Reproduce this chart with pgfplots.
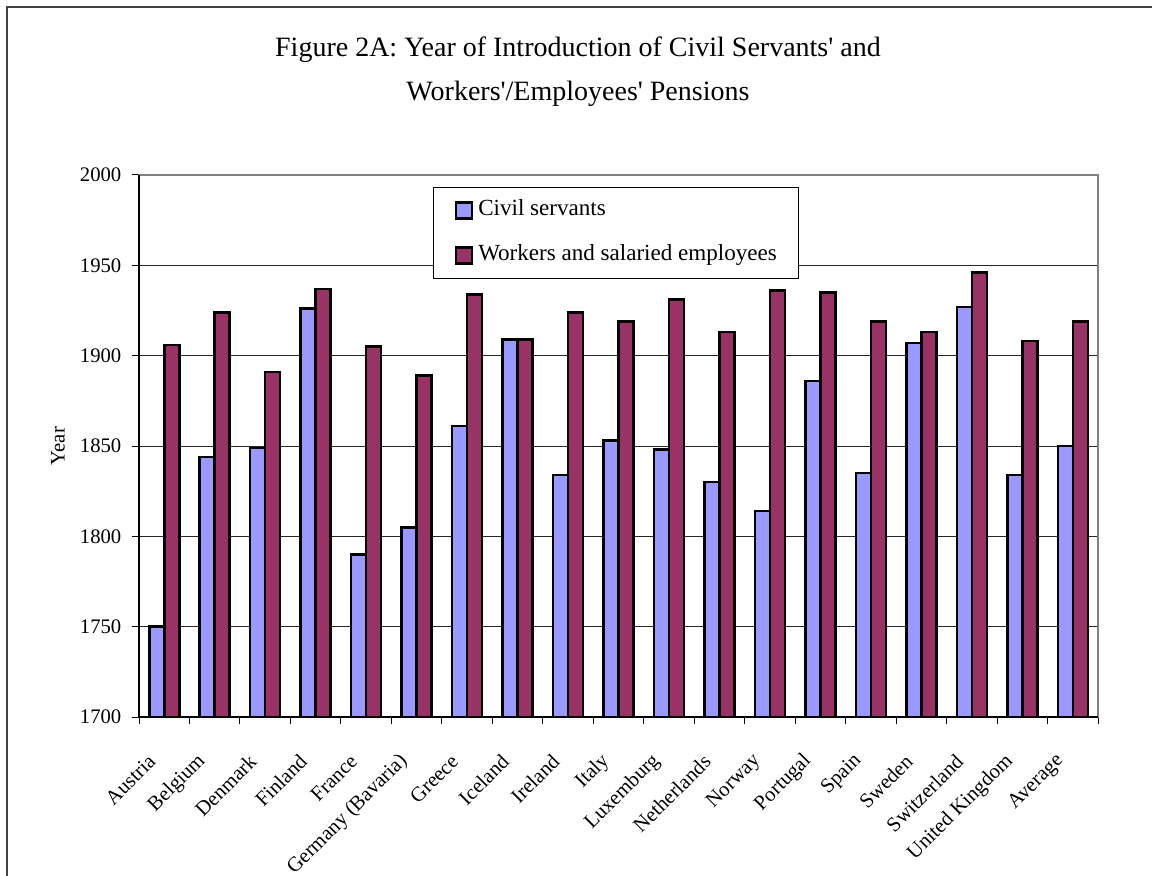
\documentclass[border=0pt]{standalone}
\usepackage{fontspec}
\setmainfont{Liberation Serif}
\usepackage{pgfplots}
\pgfplotsset{compat=1.18}
\definecolor{civil}{RGB}{153,153,255}
\definecolor{workers}{RGB}{153,51,102}
\definecolor{framegray}{RGB}{128,128,128}

\begin{document}
\begin{tikzpicture}
\useasboundingbox (0,0) rectangle (864pt,656.25pt);
% outer chart border (only top and left edges are visible in the reference)
\draw[line width=1.5pt, black!75] (5.25pt,-10pt) -- (5.25pt,651pt) -- (880pt,651pt);
\node[anchor=base, font=\fontsize{21}{25}\selectfont] at (433.5pt,613.5pt)
  {Figure 2A: Year of Introduction of Civil Servants\textquotesingle{} and};
\node[anchor=base, font=\fontsize{21}{25}\selectfont] at (433.5pt,580.5pt)
  {Workers\textquotesingle/Employees\textquotesingle{} Pensions};
\node[rotate=90, font=\fontsize{15.5}{18}\selectfont] at (43.5pt,321.75pt) {Year};

\begin{axis}[
  name=ax,
  at={(104.25pt,118.5pt)}, anchor=south west,
  scale only axis, width=719.25pt, height=406.5pt,
  ybar=0pt, bar width=11.25pt,
  xmin=-0.5, xmax=18.5, ymin=1700, ymax=2000,
  ytick={1700,1750,...,2000},
  xtick={0,...,18},
  xticklabels={Austria,Belgium,Denmark,Finland,France,Germany (Bavaria),Greece,
    Iceland,Ireland,Italy,Luxemburg,Netherlands,Norway,Portugal,Spain,Sweden,
    Switzerland,United Kingdom,Average},
  minor xtick={-0.5,0.5,...,18.5},
  tick align=outside, tick pos=left,
  major tick length=5.25pt, minor tick length=5.25pt,
  major x tick style={draw=none},
  tick style={black, line width=0.75pt},
  ymajorgrids, major grid style={black!85, line width=0.75pt},
  axis line style={framegray, line width=1.2pt},
  /pgf/number format/assume math mode=true,
  /pgf/number format/1000 sep={},
  yticklabel style={font=\fontsize{15.5}{18}\selectfont, xshift=-4.5pt},
  xticklabel style={font=\fontsize{15.5}{18}\selectfont, xshift=-6.8pt, yshift=-23.2pt,
    rotate=45, anchor=east},
  legend style={at={(0.3066,0.978)}, anchor=north west, draw=black, line width=0.75pt,
    fill=white, font=\fontsize{17.3}{20}\selectfont,
    inner xsep=16pt, inner ysep=9.25pt, row sep=17.75pt, column sep=3.75pt,
    nodes={inner sep=0pt, text height=12pt, text depth=4pt}},
  legend cell align=left,
  legend image code/.code={\draw[#1, line width=1.8pt] (0pt,-6pt) rectangle (12pt,6pt);},
]
\addplot[fill=civil, draw=black, line width=1.9pt] coordinates {
  (0,1750) (1,1844) (2,1849) (3,1926) (4,1790) (5,1805) (6,1861) (7,1909)
  (8,1834) (9,1853) (10,1848) (11,1830) (12,1814) (13,1886) (14,1835)
  (15,1907) (16,1927) (17,1834) (18,1850)};
\addplot[fill=workers, draw=black, line width=1.9pt] coordinates {
  (0,1906) (1,1924) (2,1891) (3,1937) (4,1905) (5,1889) (6,1934) (7,1909)
  (8,1924) (9,1919) (10,1931) (11,1913) (12,1936) (13,1935) (14,1919)
  (15,1913) (16,1946) (17,1908) (18,1919)};
\legend{Civil servants, Workers and salaried employees}
\end{axis}
\draw[black, line width=1.2pt] (ax.north west) -- (ax.south west) -- (ax.south east);
\end{tikzpicture}
\end{document}
